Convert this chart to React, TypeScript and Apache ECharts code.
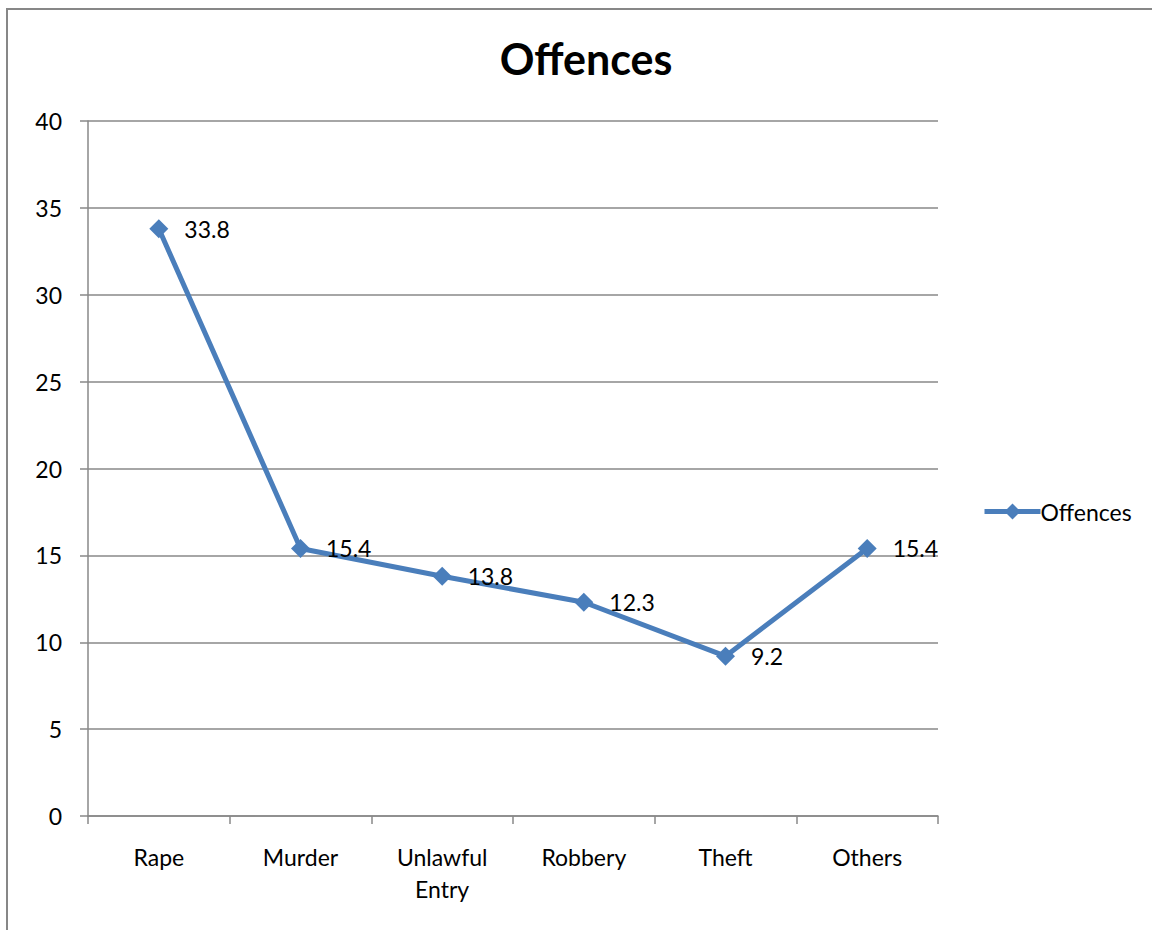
import React, { useEffect, useRef } from "react";
import * as echarts from "echarts";

const categories = ["Rape", "Murder", "Unlawful\nEntry", "Robbery", "Theft", "Others"];
const offences = [33.8, 15.4, 13.8, 12.3, 9.2, 15.4];
const seriesName = "Offences";
const titleText = "Offences";

const FONT = "Lato, 'Open Sans', sans-serif";
const BLUE = "#4A7EBB";
const FS = 23;

export default function App() {
  const ref = useRef<HTMLDivElement>(null);
  useEffect(() => {
    if (!ref.current) return;
    const chart = echarts.init(ref.current, null, { renderer: "svg" });
    chart.setOption({
      animation: false,
      backgroundColor: "#ffffff",
      title: {
        text: titleText,
        left: 581,
        textAlign: "center",
        top: 32,
        textStyle: { fontFamily: FONT, fontSize: 43, fontWeight: "bold", color: "#000" },
      },
      legend: {
        data: [seriesName],
        left: 977,
        top: 495,
        itemWidth: 56,
        itemHeight: 20,
        itemGap: 2,
        lineStyle: { width: 5, color: BLUE },
        textStyle: { fontFamily: FONT, fontSize: FS, color: "#000", padding: [0, 0, 0, -5] },
      },
      graphic: [
        {
          type: "polyline",
          shape: { points: [[7, 930], [7, 9], [1152, 9]] },
          style: { stroke: "#878787", lineWidth: 2, fill: "none" },
          silent: true,
        },
      ],
      grid: { left: 88, right: 214, top: 121, bottom: 114 },
      xAxis: {
        type: "category",
        data: categories,
        boundaryGap: true,
        axisLine: { lineStyle: { color: "#888", width: 1.5 } },
        axisTick: { show: true, length: 8, lineStyle: { color: "#888", width: 1.5 } },
        axisLabel: {
          fontFamily: FONT,
          fontSize: FS,
          color: "#000",
          margin: 25,
          lineHeight: 32,
          verticalAlign: "top",
          interval: 0,
        },
      },
      yAxis: {
        type: "value",
        min: 0,
        max: 40,
        interval: 5,
        axisLine: { show: true, lineStyle: { color: "#888", width: 1.5 } },
        axisTick: { show: true, length: 8, lineStyle: { color: "#888", width: 1.5 } },
        splitLine: { lineStyle: { color: "#888", width: 1.5 } },
        axisLabel: { fontFamily: FONT, fontSize: FS, color: "#000", margin: 26 },
      },
      series: [
        {
          name: seriesName,
          type: "line",
          data: offences,
          symbol: "diamond",
          symbolSize: 19,
          lineStyle: { color: BLUE, width: 5 },
          itemStyle: { color: BLUE },
          label: {
            show: true,
            position: "right",
            distance: 16,
            fontFamily: FONT,
            fontSize: FS,
            color: "#000",
            formatter: (p: any) => String(p.value),
          },
        },
      ],
    });
    return () => chart.dispose();
  }, []);
  return (
    <div
      ref={ref}
      style={{ position: "fixed", left: 0, top: 0, width: 1152, height: 930 }}
    />
  );
}
